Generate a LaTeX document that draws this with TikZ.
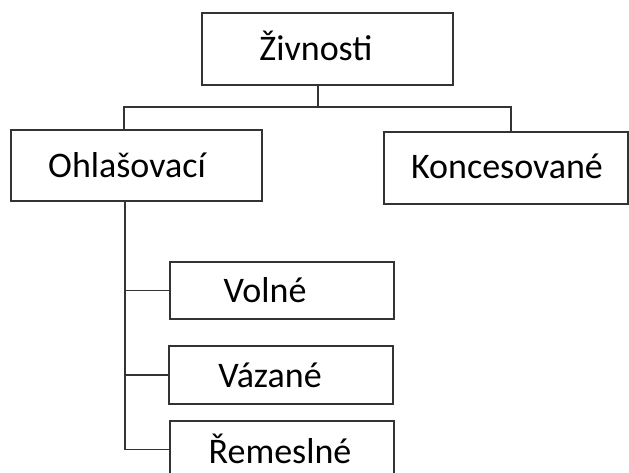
\documentclass[tikz,border=0pt]{standalone}
\usepackage{fontspec}
\setmainfont{Carlito}
\begin{document}
\begin{tikzpicture}[x=1pt,y=-1pt,
  box/.style={draw=black!80,line width=1.4pt,fill=white,rectangle,inner sep=0pt},
  lbl/.style={font=\fontsize{36}{42}\selectfont,text=black},
  conn/.style={draw=black!80,line width=1.3pt}]
\clip (0,0) rectangle (629,472);
\useasboundingbox (0,0) rectangle (629,472);
\fill[white] (0,0) rectangle (629,472);
% boxes
\node[box,minimum width=251pt,minimum height=72pt,label={[lbl,xshift=-11.5pt,yshift=3pt]center:Živnosti}] (z) at (327.5,49) {};
\node[box,minimum width=251pt,minimum height=71pt,label={[lbl,xshift=-9.5pt,yshift=0pt]center:Ohlašovací}] (o) at (136.5,165.5) {};
\node[box,minimum width=244pt,minimum height=72pt,label={[lbl,xshift=1pt,yshift=1.5pt]center:Koncesované}] (k) at (506,168) {};
\node[box,minimum width=224pt,minimum height=57pt,label={[lbl,xshift=-17pt,yshift=0pt]center:Volné}] (v) at (282,290.5) {};
\node[box,minimum width=224pt,minimum height=58pt,label={[lbl,xshift=-11pt,yshift=0pt]center:Vázané}] (va) at (281,375) {};
\node[box,minimum width=224pt,minimum height=57pt,label={[lbl,xshift=-2pt,yshift=1pt]center:Řemeslné}] (r) at (282,449.5) {};
% connectors
\coordinate (zt) at (318,107);
\coordinate (xo) at (124,0);
\coordinate (xk) at (511,0);
\coordinate (xt) at (125,0);
\draw[conn] (zt |- z.south) -- (zt);
\draw[conn] (xo |- o.north) |- (zt);
\draw[conn] (xk |- k.north) |- (zt);
\draw[conn] (xt |- o.south) |- (r.west);
\draw[conn] (xt |- v.west) -- (v.west);
\draw[conn] (xt |- va.west) -- (va.west);
\end{tikzpicture}
\end{document}
